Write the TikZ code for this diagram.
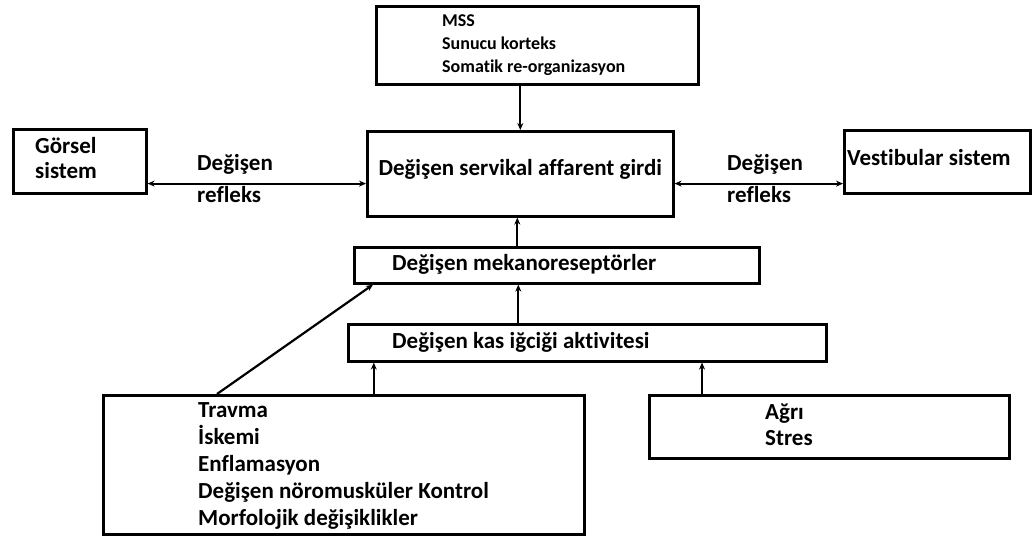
\documentclass[tikz,border=0pt]{standalone}
\usepackage{fontspec}
\setmainfont[Ligatures=NoCommon]{Carlito}
\usetikzlibrary{arrows.meta}

\begin{document}
\begin{tikzpicture}[x=1pt,y=-1pt,
    box/.style={draw, line width=2.6pt, anchor=north west, inner sep=0pt},
    txt/.style={anchor=west, align=left, inner sep=0pt, font=\bfseries\fontsize{23}{25}\selectfont},
    arr/.style={line width=2.2pt, -{Stealth[length=7pt,width=6pt]}},
    dbl/.style={line width=2.2pt, {Stealth[length=7pt,width=6pt]}-{Stealth[length=7pt,width=6pt]}}]
    \useasboundingbox (0,0) rectangle (1032,536);
    \node[box, minimum width=322pt, minimum height=78pt] (mss) at (375,5) {};
    \node[box, minimum width=306pt, minimum height=85pt] (girdi) at (366,130) {};
    \node[box, minimum width=133pt, minimum height=64pt] (gorsel) at (12,128) {};
    \node[box, minimum width=186pt, minimum height=63pt] (vest) at (843,129) {};
    \node[box, minimum width=405pt, minimum height=36pt] (mekano) at (353,246) {};
    \node[box, minimum width=478pt, minimum height=37pt] (kas) at (347,323) {};
    \node[box, minimum width=481pt, minimum height=139pt] (travma) at (102,394) {};
    \node[box, minimum width=360pt, minimum height=63pt] (agri) at (648,394) {};
    \node[txt, font=\bfseries\fontsize{18}{23}\selectfont] (mssT) at (442,45) {MSS\\Sunucu korteks\\Somatik re-organizasyon};
    \node[txt, anchor=center] (girdiT) at ([yshift=4pt]girdi.center) {Değişen servikal affarent girdi};
    \node[txt] (gorselT) at (35,158) {Görsel\\sistem};
    \node[txt] (vestT) at (847,158) {Vestibular sistem};
    \node[txt, font=\bfseries\fontsize{23}{32}\selectfont] (reflexL) at (197,179) {Değişen\\refleks};
    \node[txt, font=\bfseries\fontsize{23}{32}\selectfont] (reflexR) at (727,179) {Değişen\\refleks};
    \node[txt] (mekanoT) at (392,264) {Değişen mekanoreseptörler};
    \node[txt] (kasT) at (392,342) {Değişen kas iğciği aktivitesi};
    \node[txt, font=\bfseries\fontsize{23}{27}\selectfont] (travmaT) at (198,466) {Travma\\İskemi\\Enflamasyon\\Değişen nöromusküler Kontrol\\Morfolojik değişiklikler};
    \node[txt, font=\bfseries\fontsize{23}{26}\selectfont] (agriT) at (765,425) {Ağrı\\Stres};
    \draw[arr] (girdi.north |- mss.south) -- (girdi.north);
    \draw[dbl] ([yshift=11pt]gorsel.south east) -- ([yshift=11pt]gorsel.south east -| girdi.west);
    \draw[dbl] ([yshift=11pt]vest.south west -| girdi.east) -- ([yshift=11pt]vest.south west);
    \draw[arr] ([xshift=-3pt]girdi.south |- mekano.north) -- ([xshift=-3pt]girdi.south);
    \draw[arr] ([xshift=-2pt]girdi.south |- kas.north) -- ([xshift=-2pt]girdi.south |- mekano.south);
    \draw[arr] ([xshift=30pt]travma.north) -- ([xshift=30pt]travma.north |- kas.south);
    \draw[arr] ([xshift=54pt]agri.north west) -- ([xshift=54pt]agri.north west |- kas.south);
    \draw[arr] ([xshift=115pt]travma.north west) -- ([xshift=20pt]mekano.south west);
\end{tikzpicture}
\end{document}
